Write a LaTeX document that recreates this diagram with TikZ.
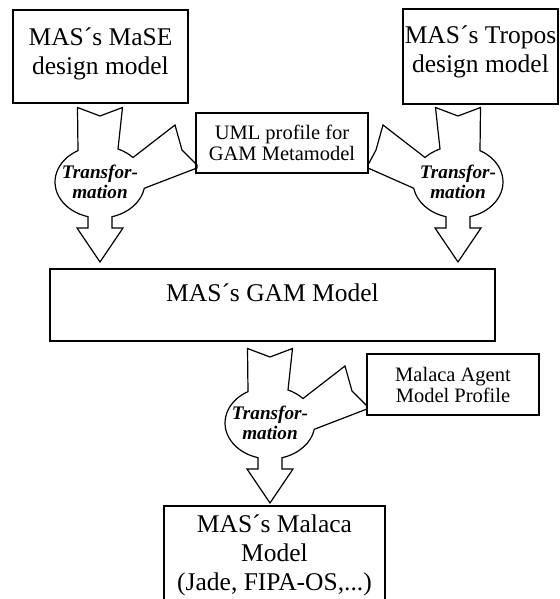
\documentclass[tikz,border=0pt]{standalone}
\usepackage{fontspec}
\setmainfont{Liberation Serif}

\tikzset{
  model/.style={draw, line width=1pt, align=center, inner sep=0pt,
    font=\fontsize{12.75}{14.5}\selectfont},
  profile/.style={draw, line width=0.8pt, align=center, inner sep=0pt,
    font=\fontsize{10.25}{10.5}\selectfont},
  trans/.style={align=center, inner sep=0pt,
    font=\fontsize{9.6}{10}\selectfont\bfseries\itshape},
  fatarrow/.style={draw, line width=0.6pt, fill=white, line join=miter},
}

% fat transformation arrow, notch of the tail at the origin
% #1 = scope options, #2 = distance to the profile box
\newcommand{\transarrow}[2]{%
  \begin{scope}[#1]
    \draw[fatarrow] (-22.5,-8.5) -- (-22,34.6)
      arc[start angle=240.7, end angle=105.5, x radius=45, y radius=36]
      -- (-12,112) -- (-23,112) -- (0,146) -- (23,112) -- (12,112) -- (12,100.7)
      arc[start angle=74.5, end angle=10, x radius=45, y radius=36]
      -- (#2,52) -- (#2,49) -- (82,34) -- (75,9) -- (33,41.5)
      arc[start angle=-42.8, end angle=-66.4, x radius=45, y radius=36]
      -- (22.5,-8.5) -- (0,0) -- cycle;
  \end{scope}}

\begin{document}
\begin{tikzpicture}[x=0.5pt, y=-0.5pt]
    \useasboundingbox (0,0) rectangle (559,599);

    \transarrow{shift={(100,116)}}{97}
    \transarrow{shift={(458,116)}, xscale=-1}{90}
    \transarrow{shift={(270,357)}}{97}

    \node[trans] (T1) at (100,182) {Transfor-\\mation};
    \node[trans] (T2) at (458,182) {Transfor-\\mation};
    \node[trans] (T3) at (270,423) {Transfor-\\mation};

    \node[model, minimum width=87.5pt, minimum height=46.5pt, text depth=5.8pt] (MaSE) at (100.5,56.5) {MAS´s MaSE\\design model};
    \node[model, minimum width=77.5pt, minimum height=47.5pt, text depth=7.8pt] (Tropos) at (480.5,56.5) {MAS´s Tropos\\design model};
    \node[profile, minimum width=86pt, minimum height=30pt] (UML) at (282,143) {UML profile for\\GAM Metamodel};
    \node[model, minimum width=222.5pt, minimum height=36pt, text height=9pt, text depth=12.1pt] (GAM) at (272.5,305) {MAS´s GAM Model};
    \node[profile, minimum width=86pt, minimum height=30.5pt] (Agent) at (453,384.5) {Malaca Agent\\Model Profile};
    \node[model, minimum width=110.5pt, minimum height=49.5pt] (Malaca) at (274.5,555.5) {MAS´s Malaca\\Model\\(Jade, FIPA-OS,...)};
\end{tikzpicture}
\end{document}
